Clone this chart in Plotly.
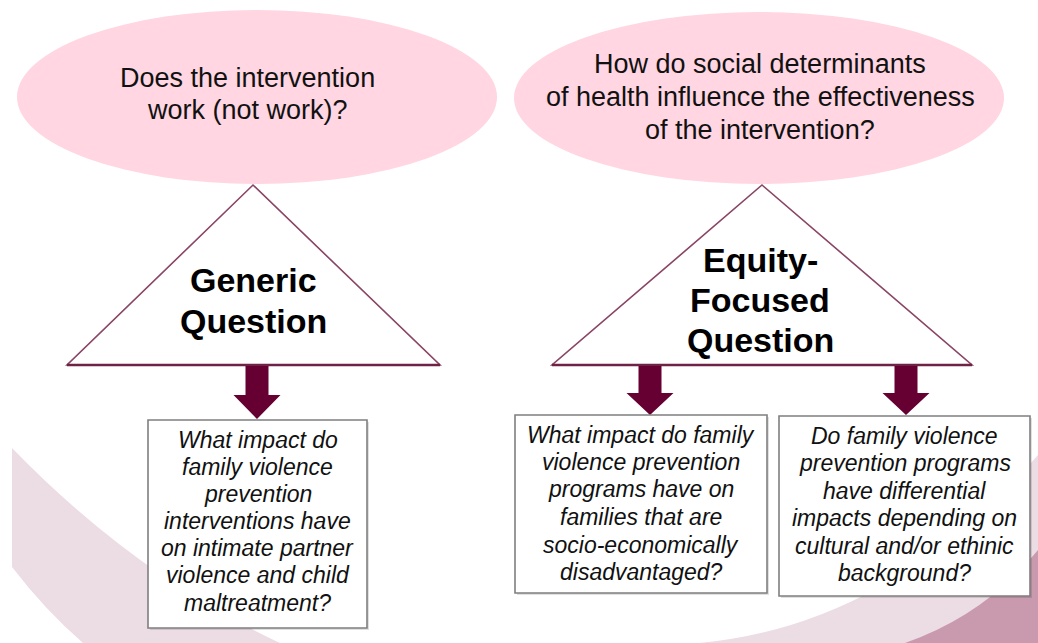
import plotly.graph_objects as go

W, H = 1038, 643

# ---- content ----
ellipse_left_lines = ["Does the intervention", "work (not work)?"]
ellipse_right_lines = ["How do social determinants",
                       "of health influence the effectiveness",
                       "of the intervention?"]
tri_left_lines = ["Generic", "Question"]
tri_right_lines = ["Equity-", "Focused", "Question"]
box_left_lines = ["What impact do", "family violence", "prevention",
                  "interventions have", "on intimate partner",
                  "violence and child", "maltreatment?"]
box_mid_lines = ["What impact do family", "violence prevention",
                 "programs have on", "families that are",
                 "socio-economically", "disadvantaged?"]
box_right_lines = ["Do family violence", "prevention programs",
                   "have differential", "impacts depending on",
                   "cultural and/or ethinic", "background?"]

PINK = "#FFD6E1"
MAROON = "#660033"
TRI_LINE = "#8A4465"
BAND_LIGHT = "#ECDCE3"
BAND_DARK = "#C99AAE"
FONT = "Arial, Liberation Sans, sans-serif"

fig = go.Figure()
shapes = []
annotations = []

# background swooshes
shapes.append(dict(type="path", layer="below",
                   path="M 12 448 Q 134 574 280 643 L 83 643 Q 45 610 12 567 Z",
                   fillcolor=BAND_LIGHT, line=dict(width=0)))
shapes.append(dict(type="path", layer="below",
                   path="M 700 643 Q 890 625 1038 455 L 1038 643 Z",
                   fillcolor=BAND_LIGHT, line=dict(width=0)))
shapes.append(dict(type="path", layer="below",
                   path="M 905 643 Q 985 615 1038 550 L 1038 643 Z",
                   fillcolor=BAND_DARK, line=dict(width=0)))

# ellipses
shapes.append(dict(type="circle", x0=17, x1=497, y0=10, y1=184,
                   fillcolor=PINK, line=dict(width=0)))
shapes.append(dict(type="circle", x0=514, x1=1004, y0=12, y1=184,
                   fillcolor=PINK, line=dict(width=0)))

# triangles
def tri(ax, ay, bl, br, by):
    shapes.append(dict(type="path",
                       path=f"M {ax} {ay} L {br} {by} L {bl} {by} Z",
                       fillcolor="white", line=dict(color=TRI_LINE, width=1.6)))
    shapes.append(dict(type="line", x0=bl, x1=br, y0=by, y1=by,
                       line=dict(color="#6E2245", width=2.4)))

tri(253, 185, 67, 440, 365)
tri(762, 185, 552, 972, 365)

# arrows
def arrow(cx, top, hs, tip, sw=11.5, hw=23.5):
    p = (f"M {cx-sw} {top} L {cx+sw} {top} L {cx+sw} {hs} L {cx+hw} {hs} "
         f"L {cx} {tip} L {cx-hw} {hs} L {cx-sw} {hs} Z")
    shapes.append(dict(type="path", path=p, fillcolor=MAROON, line=dict(width=0)))

arrow(257, 366, 395, 419)
arrow(650, 366, 393, 415)
arrow(906, 366, 393, 415)

# boxes
def box(x0, x1, y0, y1):
    shapes.append(dict(type="rect", x0=x0 + 2, x1=x1 + 2, y0=y0 + 2, y1=y1 + 2,
                       fillcolor="rgba(0,0,0,0.12)", line=dict(width=0)))
    shapes.append(dict(type="rect", x0=x0, x1=x1, y0=y0, y1=y1,
                       fillcolor="white", line=dict(color="#7F7F7F", width=1.6)))

box(148, 367, 420, 628)
box(515, 767, 415, 593)
box(779, 1030, 416, 596)

# text helper
def lines(texts, cx, ys, size, bold=False, italic=False, color="#111111"):
    for t, y in zip(texts, ys):
        txt = f"<b>{t}</b>" if bold else t
        if italic:
            txt = f"<i>{txt}</i>"
        annotations.append(dict(x=cx, y=y, xref="x", yref="y", text=txt,
                                showarrow=False, xanchor="center", yanchor="middle",
                                font=dict(family=FONT, size=size, color=color)))

lines(ellipse_left_lines, 247, [78, 110], 27)
lines(ellipse_right_lines, 760, [64, 97, 130], 27)
lines(tri_left_lines, 253, [280, 321], 34, bold=True, color="#000000")
lines(tri_right_lines, 760, [260, 300, 340], 34, bold=True, color="#000000")
lines(box_left_lines, 257.5, [440, 467, 494, 521, 548, 575, 603], 23, italic=True)
lines(box_mid_lines, 641, [435, 462, 489, 517, 545, 572], 23, italic=True)
lines(box_right_lines, 904.5, [436, 463, 491, 518, 546, 573], 23, italic=True)

fig.update_layout(
    width=W, height=H,
    margin=dict(l=0, r=0, t=0, b=0),
    paper_bgcolor="white", plot_bgcolor="white",
    xaxis=dict(range=[0, W], visible=False, fixedrange=True),
    yaxis=dict(range=[H, 0], visible=False, fixedrange=True),
    shapes=shapes, annotations=annotations,
    showlegend=False,
)

fig.write_html("out.html", config={"displayModeBar": False},
               post_script="document.body.style.margin='0';document.body.style.overflow='hidden';")
